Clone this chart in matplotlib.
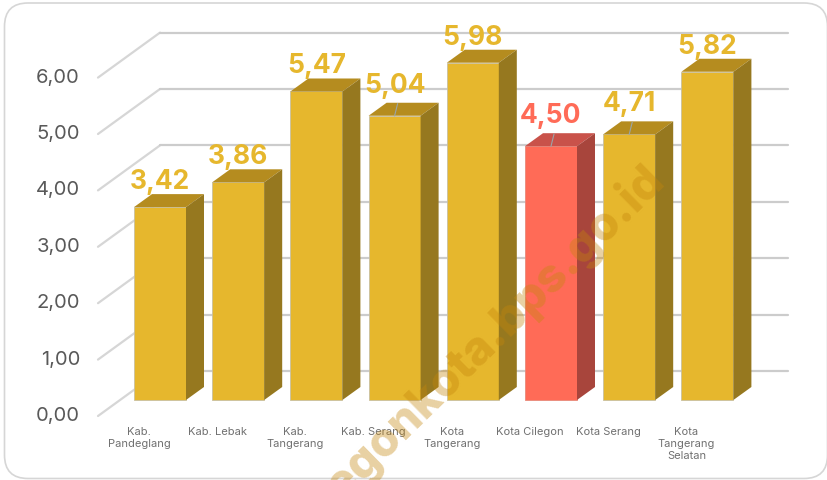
import matplotlib
matplotlib.use("Agg")
import matplotlib.pyplot as plt
from matplotlib.patches import FancyBboxPatch, Polygon

# -------------------------
# DATA
# -------------------------
categories = ["Kab.\nPandeglang", "Kab. Lebak", "Kab.\nTangerang", "Kab. Serang",
              "Kota\nTangerang", "Kota Cilegon", "Kota Serang", "Kota\nTangerang\nSelatan"]
values = [3.42, 3.86, 5.47, 5.04, 5.98, 4.50, 4.71, 5.82]
value_labels = ["3,42", "3,86", "5,47", "5,04", "5,98", "4,50", "4,71", "5,82"]
highlight = "Kota Cilegon"
y_ticks = [0, 1, 2, 3, 4, 5, 6]
y_tick_labels = ["0,00", "1,00", "2,00", "3,00", "4,00", "5,00", "6,00"]
# labels pushed off the bar, these get a thin leader line
leader_cats = ["Kab. Serang", "Kota Cilegon", "Kota Serang"]

# -------------------------
# LAYOUT (pixels of the 828x481 picture)
# -------------------------
W, H = 828, 481
PX_X = 78.2       # one category
PX_Y = 56.4       # one unit of value
X0, Y0 = 160, 401  # first bar centre, value 0 on the front plane

YELLOW = ("#e6b72d", "#b58c1f", "#96781f", "#e6b72d")
RED = ("#ff6b57", "#c9524a", "#a8453c", "#ff6b57")

plt.rcParams["font.family"] = ["Inter", "DejaVu Sans"]

fig = plt.figure(figsize=(W / 100, H / 100), dpi=100)
ax = fig.add_axes([0, 0, 1, 1])
ax.set_xlim(-X0 / PX_X, (W - X0) / PX_X)
ax.set_ylim((Y0 - H) / PX_Y, Y0 / PX_Y)
ax.axis("off")


def dx(px):
    return px / PX_X


def dy(px):
    return px / PX_Y


# -------------------------
# FRAME
# -------------------------
frame = FancyBboxPatch((dx(4.5 - X0), dy(Y0 - 479.5)), dx(W - 5), dy(475.5),
                       boxstyle="round,pad=0,rounding_size=0.3",
                       mutation_aspect=PX_X / PX_Y,
                       fc="white", ec="#d6d6d6", lw=1.2, zorder=0, clip_on=False)
ax.add_patch(frame)

# -------------------------
# GRID
# -------------------------
left = dx(98 - X0)
back = dx(160 - X0)
right = dx(788 - X0)
for v, lab in zip(y_ticks, y_tick_labels):
    ax.plot([left, back], [v - dy(16), v + dy(29)], color="#d6d6d6", lw=1.6, zorder=1,
            solid_capstyle="round")
    ax.plot([back, right], [v + dy(29), v + dy(29)], color="#cccccc", lw=1.6, zorder=1,
            solid_capstyle="round")
    ax.text(dx(80 - X0), v - dy(15), lab, ha="right", va="center", fontsize=14.5,
            color="#595959", zorder=5)

# -------------------------
# BARS
# -------------------------
half = dx(26)
ox, oy = dx(18), dy(13)
for i, (cat, v, lab) in enumerate(zip(categories, values, value_labels)):
    front, top, side, text_col = RED if cat == highlight else YELLOW
    ax.add_patch(Polygon([(i - half, 0), (i + half, 0), (i + half, v), (i - half, v)],
                         fc=front, ec="#c9c0a0" if cat != highlight else "#e8897a", lw=0.6, zorder=3))
    ax.add_patch(Polygon([(i - half, v), (i + half, v), (i + half + ox, v + oy), (i - half + ox, v + oy)],
                         fc=top, ec="none", zorder=3))
    ax.add_patch(Polygon([(i + half, 0), (i + half + ox, oy), (i + half + ox, v + oy), (i + half, v)],
                         fc=side, ec="none", zorder=3))
    gap = 31 if cat in leader_cats else 26
    if cat in leader_cats:
        ax.plot([i, i + dx(3)], [v, v + dy(12)], color="#9aa5a8", lw=0.8, zorder=4)
    ax.text(i, v + dy(gap), lab, ha="center", va="center", fontsize=19, fontweight="bold",
            color=text_col, zorder=6)
    ax.text(i - dx(21), -dy(26), cat, ha="center", va="top", fontsize=8, color="#707070",
            linespacing=1.25, zorder=5)

# -------------------------
# WATERMARK
# -------------------------
ax.text(dx(657 - X0), dy(Y0 - 173), "cilegonkota.bps.go.id", rotation=44.5, rotation_mode="anchor",
        ha="right", va="center", fontsize=33.5, fontweight="heavy", color="#c4860c", alpha=0.38, zorder=7)

fig.savefig("out.png", dpi=100)
